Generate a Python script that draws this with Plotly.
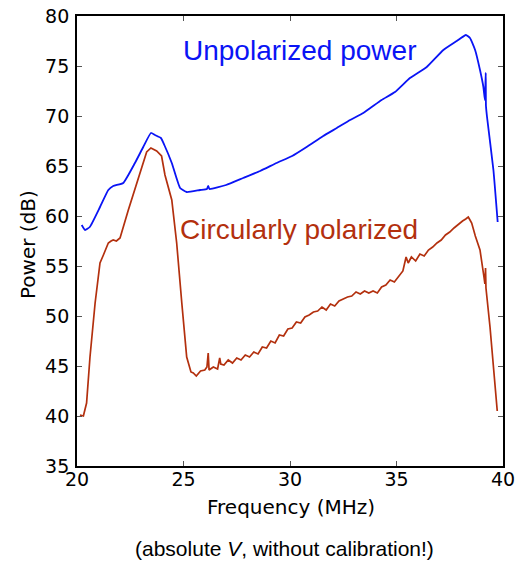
import plotly.graph_objects as go

# Unpolarized power (blue)
freq_u = [20.22, 20.38, 20.6, 21.08, 21.47, 21.7, 22.17, 22.72, 23.11, 23.47, 23.66, 23.94,
          24.1, 24.45, 24.84, 25.15, 25.77, 26.1, 26.16, 26.22, 27.0, 27.8, 28.6, 29.37,
          30.1, 30.78, 31.56, 32.2, 32.82, 33.44, 34.3, 34.93, 35.63, 36.42, 37.2, 37.83,
          38.26, 38.45, 38.69, 38.92, 39.08, 39.15, 39.19, 39.2, 39.25, 39.55, 39.75]
pow_u = [59.1, 58.6, 58.9, 60.9, 62.6, 63.0, 63.3, 65.3, 66.9, 68.3, 68.1, 67.8,
         67.1, 65.3, 62.8, 62.4, 62.6, 62.7, 63.0, 62.7, 63.1, 63.8, 64.5, 65.3,
         66.0, 66.9, 68.0, 68.8, 69.6, 70.3, 71.6, 72.4, 73.8, 74.9, 76.6, 77.5,
         78.1, 77.8, 76.6, 74.6, 72.9, 71.6, 74.3, 71.0, 69.9, 64.6, 59.4]

# Circularly polarized (red)
freq_c = [20.14, 20.3, 20.45, 20.61, 20.85, 21.08, 21.24, 21.47, 21.6, 21.7, 21.85, 22.02,
          22.41, 22.96, 23.27, 23.47, 23.74, 23.97, 24.13, 24.45, 24.68, 24.92, 25.15, 25.35,
          25.46, 25.6, 25.8, 26.0, 26.1, 26.16, 26.2, 26.4, 26.6, 26.7, 26.75, 26.9,
          27.1, 27.3, 27.5, 27.7, 27.9, 28.1, 28.3, 28.5, 28.7, 28.9, 29.1, 29.3,
          29.5, 29.7, 29.9, 30.1, 30.3, 30.5, 30.7, 30.9, 31.1, 31.3, 31.5, 31.7,
          31.9, 32.1, 32.3, 32.5, 32.7, 32.9, 33.1, 33.3, 33.5, 33.7, 33.9, 34.1,
          34.3, 34.5, 34.7, 34.9, 35.1, 35.3, 35.45, 35.55, 35.7, 35.9, 36.1, 36.3,
          36.5, 36.7, 36.9, 37.1, 37.3, 37.5, 37.7, 37.9, 38.1, 38.25, 38.37, 38.45,
          38.53, 38.7, 38.92, 39.1, 39.15, 39.18, 39.2, 39.39, 39.73]
pow_c = [40.1, 40.0, 41.3, 45.9, 51.3, 55.3, 56.1, 57.3, 57.5, 57.6, 57.5, 57.8,
         60.6, 64.3, 66.4, 66.8, 66.5, 66.0, 64.1, 61.6, 57.3, 51.3, 45.9, 44.4,
         44.3, 44.0, 44.5, 44.6, 44.9, 46.3, 44.6, 44.9, 44.7, 45.8, 45.2, 45.1,
         45.6, 45.3, 45.8, 45.6, 46.1, 45.9, 46.4, 46.2, 46.9, 46.8, 47.5, 47.3,
         48.1, 48.0, 48.7, 48.8, 49.4, 49.3, 49.9, 50.1, 50.4, 50.5, 50.9, 50.6,
         51.2, 51.0, 51.5, 51.7, 51.9, 52.0, 52.4, 52.2, 52.5, 52.3, 52.5, 52.3,
         52.9, 53.1, 53.6, 53.4, 54.0, 54.5, 55.9, 55.3, 55.9, 55.5, 56.2, 56.0,
         56.6, 56.9, 57.3, 57.6, 58.1, 58.4, 58.8, 59.2, 59.5, 59.7, 59.9, 59.6,
         59.3, 58.0, 56.6, 54.0, 53.2, 54.8, 52.8, 48.9, 40.5]

x_ticks = [20, 25, 30, 35, 40]
y_ticks = [35, 40, 45, 50, 55, 60, 65, 70, 75, 80]

BLUE = "#0a14f5"
RED = "#b3300e"

W, H = 520, 563
L, R, T, B = 77, 17, 16, 97
pw, ph = W - L - R, H - T - B


def px(xp):
    return (xp - L) / pw


def py(yp):
    return 1 - (yp - T) / ph


fig = go.Figure()
fig.add_trace(go.Scatter(x=freq_u, y=pow_u, mode="lines",
                         line=dict(color=BLUE, width=1.8, shape="spline", smoothing=0.4),
                         showlegend=False))
fig.add_trace(go.Scatter(x=freq_c, y=pow_c, mode="lines",
                         line=dict(color=RED, width=1.7), showlegend=False))

axis_common = dict(showgrid=False, zeroline=False, showline=True, linecolor="black",
                   linewidth=1.8, mirror="ticks", ticks="inside", ticklen=5,
                   tickwidth=1, tickcolor="#555555", automargin=False,
                   tickfont=dict(family="DejaVu Sans", size=19, color="black"))

fig.update_xaxes(range=[20, 40], tickvals=x_ticks, ticktext=[str(v) for v in x_ticks],
                 ticklabelstandoff=-5, **axis_common)
fig.update_yaxes(range=[35, 80], tickvals=y_ticks, ticktext=[str(v) for v in y_ticks],
                 ticklabelstandoff=2, **axis_common)

ann_common = dict(xref="paper", yref="paper", showarrow=False,
                  xanchor="center", yanchor="middle")

fig.update_layout(
    width=W, height=H,
    margin=dict(l=L, r=R, t=T, b=B, autoexpand=False),
    paper_bgcolor="white", plot_bgcolor="white",
    annotations=[
        dict(x=px(299), y=py(50), text="Unpolarized power",
             font=dict(family="Liberation Sans", size=28, color=BLUE), **ann_common),
        dict(x=px(299), y=py(230), text="Circularly polarized",
             font=dict(family="Liberation Sans", size=28, color=RED), **ann_common),
        dict(x=px(291), y=py(507), text="Frequency (MHz)",
             font=dict(family="DejaVu Sans", size=20, color="black"), **ann_common),
        dict(x=px(28), y=py(245), text="Power (dB)", textangle=-90,
             font=dict(family="DejaVu Sans", size=20, color="black"), **ann_common),
        dict(x=px(284), y=py(548),
             text="(absolute <i>V</i>, without calibration!)",
             font=dict(family="Liberation Sans", size=21, color="black"), **ann_common),
    ],
)

fig.write_html("out.html", config={"displayModeBar": False},
               post_script="document.body.style.margin='0px';"
                           "document.body.style.padding='0px';"
                           "document.body.style.overflow='hidden';")
